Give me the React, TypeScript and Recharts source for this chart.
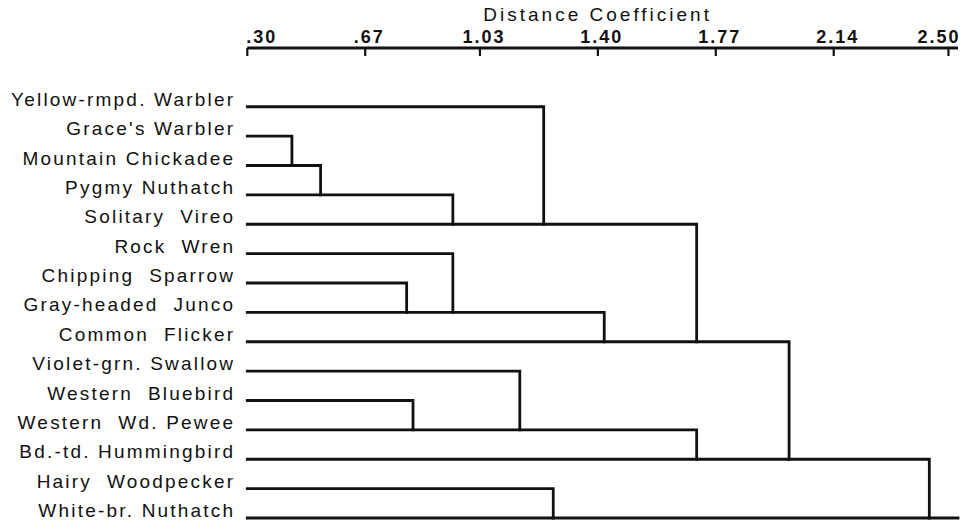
import { LineChart, Line, XAxis, YAxis, Label } from "recharts";

// leaves, top to bottom
const species = [
  "Yellow-rmpd. Warbler",
  "Grace's Warbler",
  "Mountain Chickadee",
  "Pygmy Nuthatch",
  "Solitary  Vireo",
  "Rock  Wren",
  "Chipping  Sparrow",
  "Gray-headed  Junco",
  "Common  Flicker",
  "Violet-grn. Swallow",
  "Western  Bluebird",
  "Western  Wd. Pewee",
  "Bd.-td. Hummingbird",
  "Hairy  Woodpecker",
  "White-br. Nuthatch",
];

// merge steps: cluster ids 0-14 are leaves, step i makes cluster 15 + i
const mergeA = [1, 15, 16, 0, 6, 5, 20, 18, 10, 9, 24, 22, 13, 26];
const mergeB = [2, 3, 4, 17, 7, 19, 8, 21, 11, 23, 12, 25, 14, 27];
const mergeDistance = [0.44, 0.53, 0.945, 1.23, 0.8, 0.945, 1.42, 1.71, 0.82, 1.155, 1.71, 2.0, 1.26, 2.44];

const axisTicks = [0.3, 0.67, 1.03, 1.4, 1.77, 2.14, 2.5];
const tickLabels = [".30", ".67", "1.03", "1.40", "1.77", "2.14", "2.50"];
const leafStart = 0.3;
const axisEnd = 2.53;

const font = "'Liberation Sans', Arial, sans-serif";
const ink = "#111";

// build the link paths: each merge is one bracket from child A's row to child B's row
const start: number[] = species.map(() => leafStart);
const row: number[] = species.map((_, i) => i);
const links: { x: number; y: number }[][] = [];
mergeA.forEach((a, i) => {
  const b = mergeB[i];
  const h = mergeDistance[i];
  links.push([
    { x: start[a], y: row[a] },
    { x: h, y: row[a] },
    { x: h, y: row[b] },
    { x: start[b], y: row[b] },
  ]);
  start.push(h);
  row.push(row[b]);
});
const root = start.length - 1;
links.push([
  { x: start[root], y: row[root] },
  { x: axisEnd, y: row[root] },
]);

function SpeciesTick(props: any) {
  const { x, y, payload } = props;
  const name = species[payload.value];
  if (name === undefined) return null;
  return (
    <text
      x={x - 12}
      y={y - 1}
      textAnchor="end"
      fontFamily={font}
      fontSize={19}
      letterSpacing={2.2}
      fill={ink}
      style={{ whiteSpace: "pre" }}
    >
      {name}
    </text>
  );
}

function DistanceTick(props: any) {
  const { x, y, index } = props;
  const last = index === axisTicks.length - 1;
  const anchor = index === 0 ? "start" : last ? "end" : "middle";
  const dx = index === 0 ? -1 : last ? 12 : 4;
  return (
    <g>
      <line x1={x} x2={x} y1={y} y2={y + 8} stroke={ink} strokeWidth={2.2} />
      <text
        x={x + dx}
        y={y - 5}
        textAnchor={anchor}
        fontFamily={font}
        fontSize={18}
        fontWeight="bold"
        letterSpacing={2}
        fill={ink}
      >
        {tickLabels[index]}
      </text>
    </g>
  );
}

function AxisTitle(props: any) {
  const { viewBox } = props;
  return (
    <text
      x={viewBox.x + viewBox.width / 2 - 5}
      y={20.5}
      textAnchor="middle"
      fontFamily={font}
      fontSize={19}
      letterSpacing={3}
      fill={ink}
    >
      Distance Coefficient
    </text>
  );
}

export default function App() {
  return (
    <div style={{ position: "absolute", left: 0, top: 0, background: "#fff" }}>
      <LineChart width={966} height={523} margin={{ top: 0, right: 8, bottom: 5, left: 0 }}>
        <XAxis
          type="number"
          dataKey="x"
          orientation="top"
          height={48}
          domain={[leafStart, axisEnd]}
          ticks={axisTicks}
          interval={0}
          tickSize={0}
          tickMargin={0}
          tickLine={false}
          axisLine={{ stroke: ink, strokeWidth: 2.8 }}
          tick={<DistanceTick />}
        >
          <Label content={<AxisTitle />} />
        </XAxis>
        <YAxis
          type="number"
          dataKey="y"
          reversed
          domain={[-2, 14]}
          ticks={species.map((_, i) => i)}
          interval={0}
          width={247.3}
          tickSize={0}
          tickMargin={0}
          tickLine={false}
          axisLine={false}
          tick={<SpeciesTick />}
        />
        {links.map((pts, i) => (
          <Line
            key={i}
            data={pts}
            dataKey="y"
            type="linear"
            stroke={ink}
            strokeWidth={2.8}
            strokeLinejoin="miter"
            strokeLinecap="square"
            dot={false}
            activeDot={false}
            isAnimationActive={false}
          />
        ))}
      </LineChart>
    </div>
  );
}
